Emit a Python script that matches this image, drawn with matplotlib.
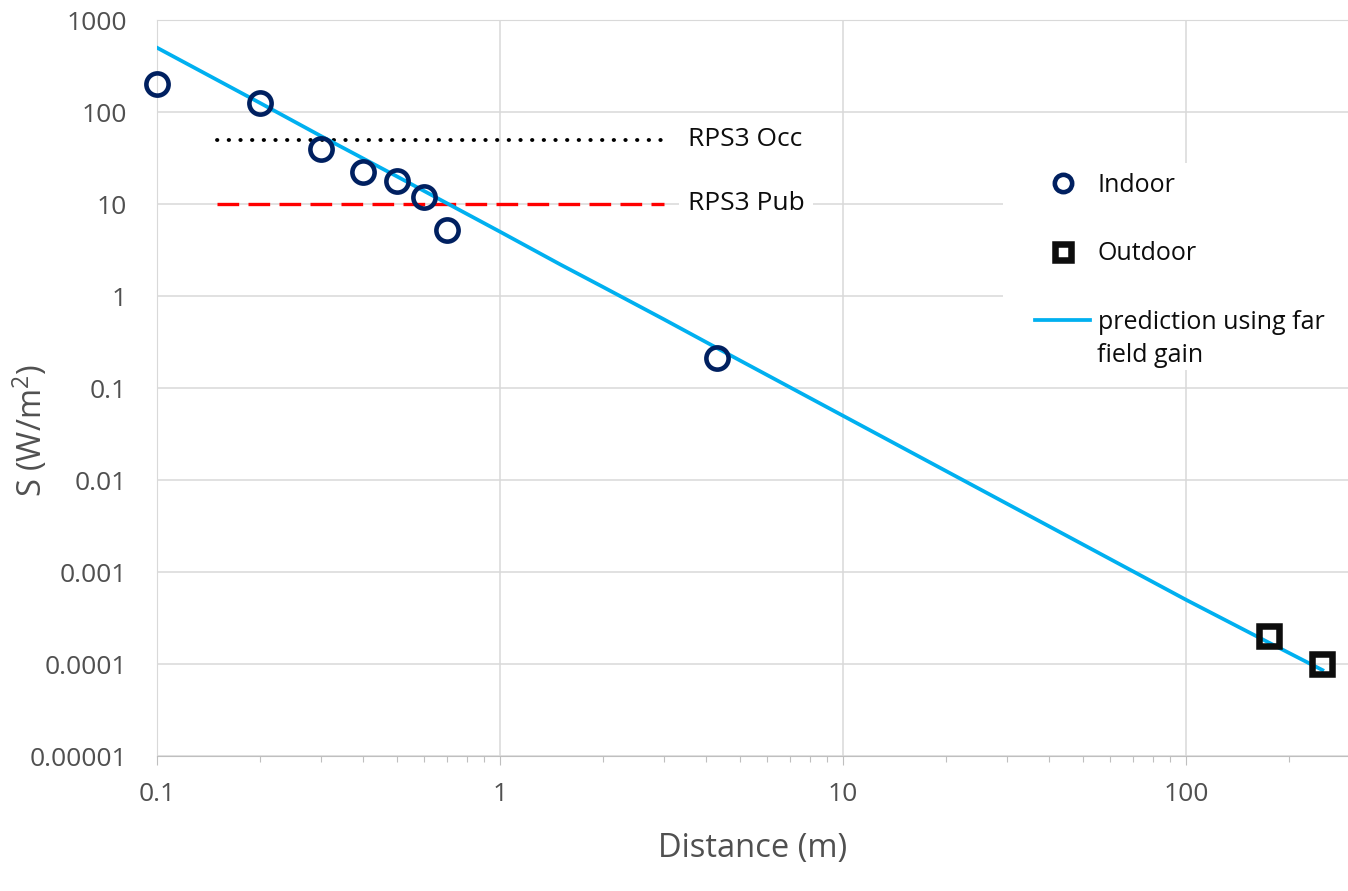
import matplotlib
matplotlib.use("Agg")
import matplotlib.pyplot as plt
from matplotlib.patches import Rectangle
from matplotlib.ticker import NullFormatter, NullLocator, LogLocator

plt.rcParams["font.family"] = ["Open Sans", "DejaVu Sans"]
plt.rcParams["mathtext.default"] = "regular"

# measured points
indoor_d = [0.1, 0.2, 0.3, 0.4, 0.5, 0.6, 0.7, 4.3]
indoor_s = [200, 125, 40, 22, 18, 12, 5.2, 0.21]
outdoor_d = [175, 250]
outdoor_s = [0.0002, 0.0001]

# far field prediction
pred_d = [0.1, 0.2, 0.3, 0.5, 0.7, 1, 1.5, 2, 3, 5, 10, 20, 50, 100, 175, 250]
pred_s = [500, 125, 55, 20, 10.2, 5.0, 2.2, 1.25, 0.56, 0.2, 0.05, 0.0125,
          0.002, 0.0005, 0.00017, 0.000086]

# RPS3 limits
limit_d = [0.15, 3]
occ_level = 50
pub_level = 10

x_ticks = [0.1, 1, 10, 100]
x_labels = ["0.1", "1", "10", "100"]
y_ticks = [1e-5, 1e-4, 1e-3, 1e-2, 1e-1, 1, 10, 100, 1000]
y_labels = ["0.00001", "0.0001", "0.001", "0.01", "0.1", "1", "10", "100", "1000"]

W, H = 1348, 891
fig = plt.figure(figsize=(W / 100, H / 100), dpi=100)
ax = fig.add_axes([157 / W, 1 - 756 / H, (W - 157) / W, (756 - 20) / H])
ax.set_xscale("log")
ax.set_yscale("log")
ax.set_xlim(0.1, 297)
ax.set_ylim(1e-5, 1e3)

grid_c = "#d9d9d9"
ax.set_axisbelow(True)
ax.grid(True, which="major", color=grid_c, lw=1.1)
ax.spines["left"].set_color(grid_c)
ax.spines["top"].set_color(grid_c)
ax.spines["right"].set_visible(False)
ax.spines["bottom"].set_color("#bfbfbf")

ax.set_xticks(x_ticks, x_labels)
ax.set_yticks(y_ticks, y_labels)
ax.yaxis.set_minor_locator(NullLocator())
ax.xaxis.set_minor_locator(LogLocator(base=10, subs=range(2, 10)))
ax.xaxis.set_minor_formatter(NullFormatter())
ax.tick_params(axis="y", length=0, pad=21.5, labelsize=19, labelcolor="#505050")
ax.tick_params(axis="x", which="major", length=6.5, width=0.8, color="#bfbfbf",
               pad=12, labelsize=19, labelcolor="#505050")
ax.tick_params(axis="x", which="minor", length=4.5, width=0.8, color="#bfbfbf")

# white area behind the legend hides the grid
ax.add_patch(Rectangle((1003 / W, 1 - 370 / H), (W - 1003) / W, (370 - 163) / H,
                       transform=fig.transFigure, facecolor="white",
                       edgecolor="none", zorder=1))

ax.plot(limit_d, [occ_level, occ_level], color="black", lw=2.8,
        linestyle=(0, (0.1, 2.9)), dash_capstyle="round", zorder=2)
ax.plot(limit_d, [pub_level, pub_level], color="#ff0000", lw=2.4,
        linestyle=(0, (6.5, 2.8)), zorder=2)

pred, = ax.plot(pred_d, pred_s, color="#00b0f0", lw=2.7, zorder=3,
                label="prediction using far")
ind, = ax.plot(indoor_d, indoor_s, "o", ms=16, mfc="none", mec="#002060",
               mew=3.3, zorder=4, label="Indoor", clip_on=False)
out, = ax.plot(outdoor_d, outdoor_s, "s", ms=14.5, mfc="none", mec="#0d0d0d",
               mew=4.7, zorder=4, label="Outdoor", clip_on=False)

box = dict(facecolor="white", edgecolor="none", pad=6)
ax.text(3.53, occ_level, "RPS3 Occ", fontsize=19, va="center", ha="left",
        color="#0d0d0d", bbox=box, zorder=5)
ax.text(3.53, pub_level, "RPS3 Pub", fontsize=19, va="center", ha="left",
        color="#0d0d0d", bbox=box, zorder=5)

leg = ax.legend(handles=[ind, out, pred], loc="upper left",
                bbox_to_anchor=(1035 / W, 1 - 173 / H), bbox_transform=fig.transFigure,
                frameon=False, fontsize=18, borderpad=0, borderaxespad=0,
                handlelength=2.2, handletextpad=0.3, labelspacing=1.74,
                markerscale=0.78)
for t in leg.get_texts():
    t.set_color("#0d0d0d")
fig.text(1097 / W, 1 - 356 / H, "field gain", fontsize=18, va="center",
         ha="left", color="#0d0d0d")

fig.text(753 / W, 1 - 848 / H, "Distance (m)", fontsize=23.5, ha="center",
         va="center", color="#505050")
fig.text(30 / W, 1 - 431 / H, "S (W/m$^{2}$)", fontsize=23.5, rotation=90,
         ha="center", va="center", color="#505050")

fig.savefig("out.png", dpi=100)
